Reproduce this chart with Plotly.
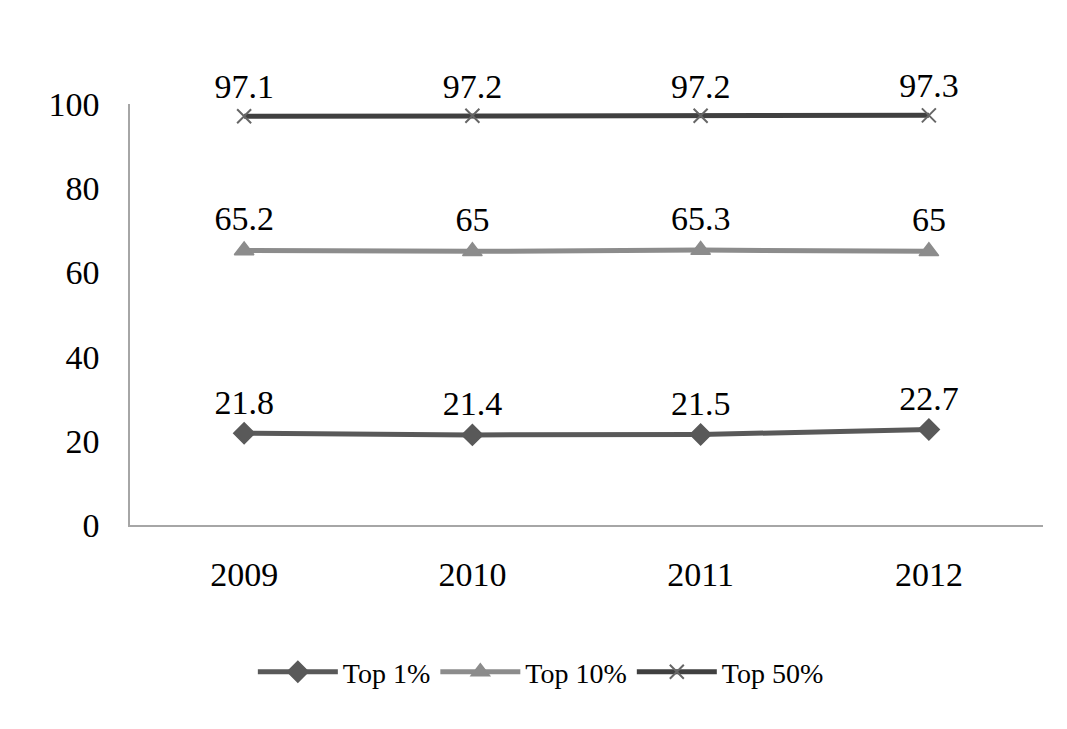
import plotly.graph_objects as go

years = ["2009", "2010", "2011", "2012"]
top1 = [21.8, 21.4, 21.5, 22.7]
top10 = [65.2, 65, 65.3, 65]
top50 = [97.1, 97.2, 97.2, 97.3]
labels1 = ["21.8", "21.4", "21.5", "22.7"]
labels10 = ["65.2", "65", "65.3", "65"]
labels50 = ["97.1", "97.2", "97.2", "97.3"]

FONT = "Liberation Serif, Times New Roman, serif"
fig = go.Figure()
def add(name, y, txt, color, sym, msize, mcolor, lw, mlw):
    fig.add_trace(go.Scatter(x=years, y=y, name=name, mode="lines+markers+text",
        text=txt, textposition="top center", cliponaxis=False,
        textfont=dict(size=34, color="black", family=FONT),
        line=dict(color=color, width=lw),
        marker=dict(symbol=sym, size=msize, color=mcolor, line=dict(color=mcolor, width=mlw))))
add("Top 1%", top1, labels1, "#595959", "diamond", 16, "#595959", 5, 1.5)
add("Top 10%", top10, labels10, "#8c8c8c", "triangle-up", 17, "#8c8c8c", 5, 1.5)
add("Top 50%", top50, labels50, "#404040", "x-thin", 14, "#666666", 5, 2)

fig.update_layout(
    width=1067, height=729, paper_bgcolor="white", plot_bgcolor="white",
    margin=dict(l=122, r=32, t=96, b=212),
    font=dict(family=FONT, size=34, color="black"),
    showlegend=True,
    legend=dict(orientation="h", x=0.45, xanchor="center", y=-0.29, yanchor="top",
                font=dict(size=28), itemwidth=80),
    xaxis=dict(type="category", range=[-0.5, 3.5], showline=True, linecolor="#a6a6a6",
               linewidth=1.5, showgrid=False, ticks="", ticklabelstandoff=18),
    yaxis=dict(range=[0, 100], tickvals=[0, 20, 40, 60, 80, 100], showline=True,
               linecolor="#a6a6a6", linewidth=1.5, showgrid=False, zeroline=False,
               ticks="", ticklabelstandoff=22),
)
fig.write_html("out.html")
